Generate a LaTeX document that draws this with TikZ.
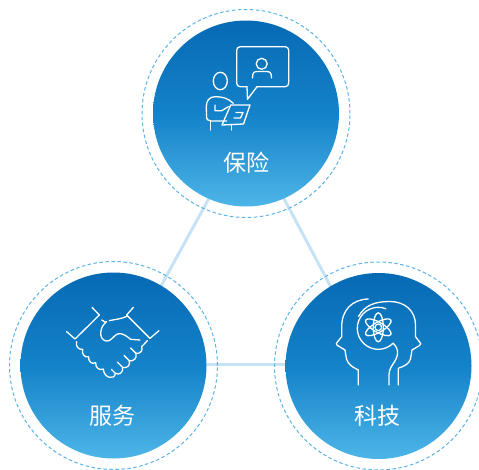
\documentclass[tikz,border=0pt]{standalone}
\usepackage{fontspec}
\newfontfamily\cjk{Noto Sans CJK SC}
\definecolor{gtop}{HTML}{066AB4}
\definecolor{gmid}{HTML}{1482C9}
\definecolor{gbot}{HTML}{4DB5E8}
\definecolor{ringc}{HTML}{5AB4E5}
\definecolor{linkc}{HTML}{C6E2F5}
\tikzset{
  disc/.style={circle, minimum size=186pt, inner sep=0pt, top color=gtop, bottom color=gbot, middle color=gmid},
  ring/.style={circle, minimum size=208pt, inner sep=0pt, draw=ringc, line width=1pt, dash pattern=on 3.5pt off 2.5pt},
  link/.style={draw=linkc, line width=3pt},
  icon/.style={draw=white, line width=1.3pt, line cap=round, line join=round},
  lbl/.style={text=white, font=\cjk\fontsize{23}{23}\selectfont, inner sep=0pt}
}
\begin{document}
\begin{tikzpicture}[x=1pt,y=-1pt]
\useasboundingbox (0,0) rectangle (479,469);
% triangle vertices (hidden under discs)
\coordinate (tA) at (247,129);
\coordinate (tB) at (118,364.3);
\coordinate (tC) at (372,364.3);
\draw[link] (tA) -- (tB);
\draw[link] (tB) -- (tC);
\draw[link] (tC) -- (tA);
% rings and discs
\node[ring] (insR) at (246,113.5) {};
\node[ring] (svcR) at (113.5,365.5) {};
\node[ring] (tecR) at (378.5,366) {};
\node[disc] (ins) at (246,113.5) {};
\node[disc] (svc) at (113.5,365.5) {};
\node[disc] (tec) at (378.5,366) {};
% ---------- insurance icon ----------
\draw[icon, rounded corners=3.5pt] (247,86.7) -- (236.7,86.7) -- (236.7,46.7) -- (288.7,46.7) -- (288.7,86.7) -- (257,86.7);
\draw[icon] (247,86.7) -- (247.5,99.3) -- (257,86.7);
\draw[icon] (261.7,63.8) circle[radius=5.5];
\draw[icon] (252.5,78) .. controls (252.5,72) and (254,71.5) .. (258,71.5) -- (265.5,71.5) .. controls (270,71.5) and (271.5,72) .. (271.5,78);
\draw[icon] (220.3,81) ellipse[x radius=7, y radius=8.7];
\draw[icon] (233.3,103.3) .. controls (228,98) and (222,96.7) .. (215,96.7) .. controls (209,96.7) and (206.3,101) .. (206.3,107) -- (206.5,116) .. controls (206.5,119.5) and (208,121) .. (211,121) -- (226.7,121);
\draw[icon] (215,105) -- (215,110.7) -- (221.7,110.7) -- (228.3,106.7);
\draw[icon] (230.7,105) -- (250,105) -- (243.5,124) -- (222,125) -- cycle;
\draw[icon] (236,112.5) -- (243,112.5) -- (240.5,118) -- (234,118);
\draw[icon] (210.7,121) -- (210.7,130);
\draw[icon] (231.7,124.5) -- (231.7,130);
% ---------- handshake icon ----------
\begin{scope}[shift={(60,300)}, scale=1/3]
\draw[icon] (20,95) -- (45,117) -- (118,45) -- (96,22);
\draw[icon] (297,92) -- (270,115) -- (200,45) -- (220,22);
\draw[icon] (125,60) -- (137,67);
\draw[icon] (148,62) .. controls (165,58) and (185,57) .. (203,48);
\draw[icon] (140,65) .. controls (118,80) and (115,118) .. (138,123) .. controls (152,126) and (160,108) .. (172,102) .. controls (185,97) and (200,108) .. (212,118) -- (240,120);
\draw[icon] (262,122) -- (245,140) .. controls (250,152) and (240,162) .. (228,160) .. controls (232,175) and (220,185) .. (208,182) .. controls (212,197) and (200,206) .. (188,202) .. controls (190,218) and (178,226) .. (166,220) .. controls (165,230) and (158,234) .. (150,232);
\draw[icon] (228,160) -- (212,144);
\draw[icon] (208,182) -- (192,166);
\draw[icon] (188,202) -- (172,186);
\draw[icon] (166,220) -- (154,208);
\draw[icon] (50,125) .. controls (46,138) and (55,150) .. (68,148) .. controls (64,162) and (74,174) .. (86,170) .. controls (84,185) and (96,194) .. (107,188) .. controls (106,203) and (118,213) .. (130,207) .. controls (130,222) and (142,232) .. (150,232);
\end{scope}
% ---------- heads icon ----------
\draw[icon] (358.3,385) -- (358.3,370) .. controls (352,367) and (348,364) .. (346.5,359) -- (345,350) -- (337.5,345.5) .. controls (336,344.5) and (336,343.5) .. (337,342.5) -- (341.7,336.7) -- (341.7,327) .. controls (341.7,310) and (352,299.5) .. (368.3,299);
\draw[icon] (398.3,385) -- (398.3,368.3) .. controls (404.5,366) and (409,364) .. (410.5,359) -- (412,350) -- (419.5,345.5) .. controls (421,344.5) and (421,343.5) .. (420,342.5) -- (415.5,336.7) -- (415.5,325) .. controls (415.5,311) and (405,301.5) .. (390,301.5) .. controls (375,301.5) and (365,305) .. (358.5,316.5);
\draw[icon] (385.8,308.7) arc[start angle=-69, end angle=-315, radius=21] .. controls (400,350) and (398,357) .. (393,364) .. controls (389,370) and (389,372) .. (389,378) -- (389,385);
\coordinate (atom) at (378.3,327.3);
\draw[icon] (atom) circle[radius=3.3];
\draw[icon, rotate around={90:(atom)}] (atom) ellipse[x radius=14.5, y radius=5];
\draw[icon, rotate around={30:(atom)}] (atom) ellipse[x radius=14.5, y radius=5];
\draw[icon, rotate around={150:(atom)}] (atom) ellipse[x radius=14.5, y radius=5];
% labels
\node[lbl] (insL) at (246,162.5) {保险};
\node[lbl] (svcL) at (112.5,415.8) {服务};
\node[lbl] (tecL) at (377.5,415.8) {科技};
\end{tikzpicture}
\end{document}
